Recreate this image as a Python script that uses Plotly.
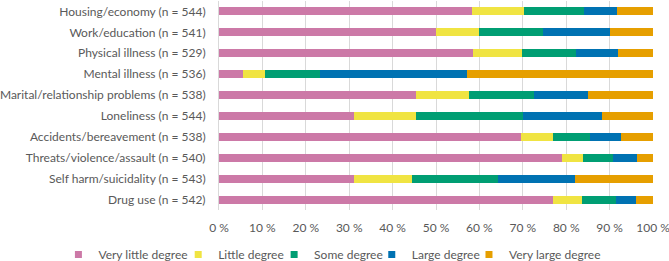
import plotly.graph_objects as go

categories = [
    "Housing/economy (n = 544)",
    "Work/education (n = 541)",
    "Physical illness (n = 529)",
    "Mental illness (n = 536)",
    "Marital/relationship problems (n = 538)",
    "Loneliness (n = 544)",
    "Accidents/bereavement (n = 538)",
    "Threats/violence/assault (n = 540)",
    "Self harm/suicidality (n = 543)",
    "Drug use (n = 542)",
]

very_little = [58.3, 50.1, 58.5, 5.5, 45.4, 31.1, 69.5, 79.0, 31.1, 77.0]
little = [11.9, 9.8, 11.3, 5.0, 12.2, 14.3, 7.4, 4.9, 13.3, 6.6]
some = [14.0, 14.7, 12.5, 12.7, 15.0, 24.6, 8.6, 6.9, 19.9, 7.9]
large = [7.5, 15.4, 9.6, 34.0, 12.5, 18.2, 7.1, 5.4, 17.8, 4.6]
very_large = [8.3, 10.0, 8.1, 42.8, 14.9, 11.8, 7.4, 3.8, 17.9, 3.9]

series_names = ["Very little degree", "Little degree", "Some degree", "Large degree", "Very large degree"]
series_values = [very_little, little, some, large, very_large]
colors = ["#CC79A7", "#F0E442", "#009E73", "#0072B2", "#E69F00"]

tick_vals = [0, 10, 20, 30, 40, 50, 60, 70, 80, 90, 100]
tick_text = ["0 %", "10 %", "20 %", "30 %", "40 %", "50 %", "60 %", "70 %", "80 %", "90 %", "100 %"]

# horizontal placement of each legend entry (paper fraction of plot width)
legend_x = [-0.37, -0.094, 0.127, 0.352, 0.576]
legend_ids = ["legend", "legend2", "legend3", "legend4", "legend5"]

FONT = "Lato"
FS = 12
GREY = "#595959"

fig = go.Figure()
for name, vals, col in zip(series_names, series_values, colors):
    fig.add_trace(go.Bar(
        y=categories, x=vals, name=name, orientation="h",
        marker=dict(color=col, line=dict(width=0)),
        showlegend=False,
    ))

# legend entries (small square swatches as in the original)
for name, col, lid in zip(series_names, colors, legend_ids):
    fig.add_trace(go.Scatter(
        x=[None], y=[None], mode="markers", name=name, legend=lid,
        marker=dict(symbol="square", size=7, color=col),
        showlegend=True, hoverinfo="skip",
    ))

legend_common = dict(
    orientation="h", xanchor="left", y=-0.213, yanchor="middle",
    font=dict(family=FONT, size=FS, color=GREY),
    itemsizing="trace", bgcolor="rgba(0,0,0,0)",
)

layout_legends = {}
for lid, lx in zip(legend_ids, legend_x):
    layout_legends[lid] = dict(legend_common, x=lx)

fig.update_layout(
    barmode="stack",
    bargap=0.62,
    width=669, height=261,
    margin=dict(l=219, r=16, t=1, b=51, pad=0, autoexpand=False),
    paper_bgcolor="white", plot_bgcolor="white",
    font=dict(family=FONT, size=FS, color=GREY),
    showlegend=True,
    **layout_legends,
)
fig.update_xaxes(
    range=[0, 100], tickvals=tick_vals, ticktext=tick_text,
    showgrid=True, gridcolor="#D9D9D9", gridwidth=1,
    zeroline=False, showline=False, ticks="",
    ticklabelstandoff=9, ticklabeloverflow="allow",
    tickfont=dict(family=FONT, size=FS, color=GREY),
)
fig.update_yaxes(
    autorange="reversed", showline=True, linecolor="#D9D9D9", linewidth=1,
    ticks="", ticklabelstandoff=10, ticklabeloverflow="allow",
    tickfont=dict(family=FONT, size=FS, color=GREY),
)

fig.write_html("out.html")
